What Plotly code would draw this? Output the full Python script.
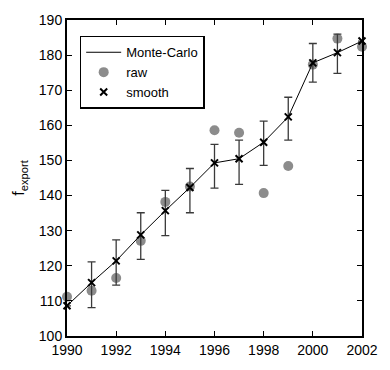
import plotly.graph_objects as go

# Export factor by year
years = list(range(1990, 2003))
mc_mean = [108.6, 115.2, 121.4, 128.8, 135.7, 142.3, 149.3, 150.5, 155.2, 162.4, 177.8, 180.7, 184.0]
mc_upper = [None, 121.1, 127.4, 135.1, 141.5, 147.7, 154.6, 155.8, 161.2, 168.0, 183.3, 186.0, None]
mc_lower = [None, 108.1, 114.5, 121.8, 128.6, 135.1, 142.1, 143.2, 148.6, 155.8, 172.3, 174.8, None]
raw = [111.2, 112.9, 116.5, 127.1, 138.2, 142.6, 158.6, 157.9, 140.7, 148.4, 177.3, 184.7, 182.4]
smooth = mc_mean

x_ticks = list(range(1990, 2003, 2))
y_ticks = list(range(100, 191, 10))

err_plus = [None if u is None else u - m for u, m in zip(mc_upper, mc_mean)]
err_minus = [None if l is None else m - l for l, m in zip(mc_lower, mc_mean)]

FONT = "Liberation Sans, Arial, Helvetica, sans-serif"

fig = go.Figure()

fig.add_trace(go.Scatter(
    x=years, y=raw, mode="markers", name="raw",
    marker=dict(color="#8c8c8c", size=10, line=dict(width=0)),
    cliponaxis=False, legendrank=2,
))
fig.add_trace(go.Scatter(
    x=years, y=mc_mean, mode="lines", name="Monte-Carlo",
    line=dict(color="black", width=1),
    error_y=dict(type="data", symmetric=False, array=err_plus, arrayminus=err_minus,
                 color="#3a3a3a", thickness=1.3, width=4),
    cliponaxis=False, legendrank=1,
))
fig.add_trace(go.Scatter(
    x=years, y=smooth, mode="markers", name="smooth",
    marker=dict(symbol="x-thin", color="black", size=7, line=dict(width=2, color="black")),
    cliponaxis=False, legendrank=3,
))

axis_common = dict(
    showgrid=False, zeroline=False, showline=True, linecolor="black", linewidth=2,
    mirror="ticks", ticks="inside", ticklen=5, tickwidth=1, tickcolor="black",
    tickfont=dict(family=FONT, size=14, color="black"),
)

fig.update_xaxes(range=[1990, 2002], tickvals=x_ticks, **axis_common)
fig.update_yaxes(range=[100, 190], tickvals=y_ticks,
                 title=dict(text="f<sub>export</sub>", font=dict(family=FONT, size=16, color="black"),
                            standoff=10),
                 **axis_common)

fig.update_layout(
    width=390, height=370,
    margin=dict(l=67, r=16, t=16, b=22),
    paper_bgcolor="white", plot_bgcolor="white",
    showlegend=True,
    legend=dict(x=0.043, y=0.95, xanchor="left", yanchor="top",
                bgcolor="white", bordercolor="black", borderwidth=1.5,
                font=dict(family=FONT, size=13, color="black"),
                tracegroupgap=0, itemwidth=35),
)

fig.write_html("out.html")
